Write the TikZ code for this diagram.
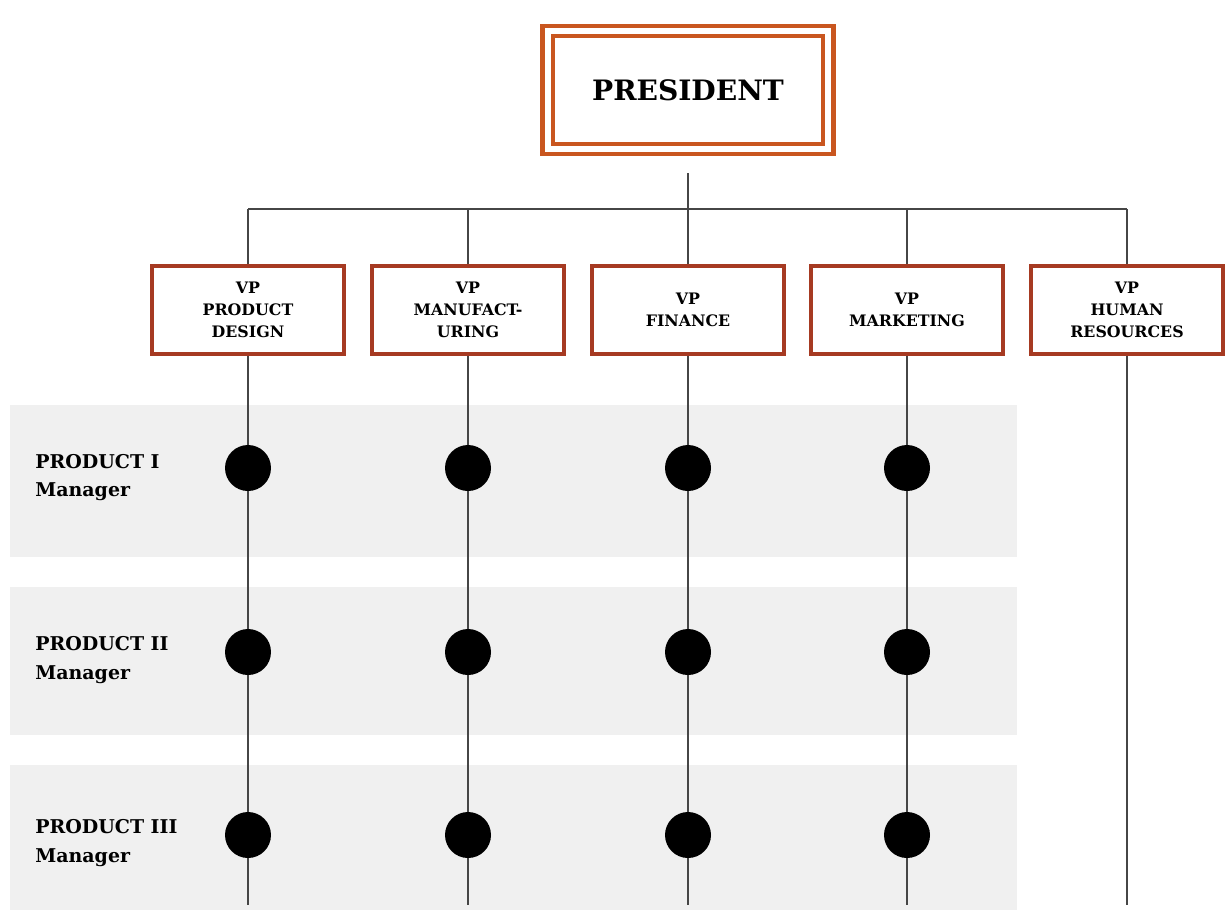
\documentclass[tikz,border=0pt]{standalone}
\usepackage{fontspec}
\setmainfont{DejaVu Serif}
\usetikzlibrary{positioning}
\definecolor{presorange}{RGB}{201,86,31}
\definecolor{vpred}{RGB}{166,58,34}
\definecolor{bandgray}{RGB}{240,240,240}
\definecolor{linegray}{RGB}{70,70,70}

\begin{document}
\begin{tikzpicture}[x=0.02cm,y=-0.02cm,
  presbox/.style={draw=presorange,line width=2.5pt,double=white,double distance=3.4pt,
    minimum width=5.62cm,minimum height=2.36cm,font=\bfseries\fontsize{16}{20}\selectfont},
  vpbox/.style={draw=vpred,line width=2.8pt,fill=white,minimum width=3.84cm,
    minimum height=1.76cm,align=center,font=\bfseries\fontsize{9}{12.5}\selectfont},
  link/.style={draw=linegray,line width=0.8pt},
  dot/.style={circle,fill=black,minimum size=0.92cm,inner sep=0pt},
  rowlabel/.style={anchor=west,align=left,inner sep=0pt,font=\bfseries\fontsize{10.8}{16}\selectfont}]
\useasboundingbox (0,0) rectangle (1230,923);
% product bands
\fill[bandgray] (10,405) rectangle (1017,557);
\fill[bandgray] (10,587) rectangle (1017,735);
\fill[bandgray] (10,765) rectangle (1017,910);

\node[presbox] (pres) at (688,90) {PRESIDENT};
\node[vpbox] (vpd) at (248,310) {VP\\PRODUCT\\DESIGN};
\node[vpbox] (vpm) at (468,310) {VP\\MANUFACT-\\URING};
\node[vpbox] (vpf) at (688,310) {VP\\FINANCE};
\node[vpbox] (vpk) at (907,310) {VP\\MARKETING};
\node[vpbox] (vph) at (1127,310) {VP\\HUMAN\\RESOURCES};

\coordinate (ptop) at (688,173);
\coordinate (bus) at (688,209);
\draw[link] (ptop) -- (bus);
\draw[link] (vpd.north |- bus) -- (vph.north |- bus);
\foreach \v in {vpd,vpm,vpf,vpk,vph}{
  \coordinate (\v-end) at (\v.center |- 0,905);
  \draw[link] (\v.north |- bus) -- (\v.north);
  \draw[link] (\v.south) -- (\v-end);
}
% managers
\foreach \v in {vpd,vpm,vpf,vpk}
  \foreach \y/\r in {468/1,652/2,835/3}
    \node[dot] (\v-\r) at (\v.center |- 0,\y) {};

\node[rowlabel] (row1) at (35,478) {PRODUCT I\\Manager};
\node[rowlabel] (row2) at (35,660) {PRODUCT II\\Manager};
\node[rowlabel] (row3) at (35,843) {PRODUCT III\\Manager};
\end{tikzpicture}
\end{document}
